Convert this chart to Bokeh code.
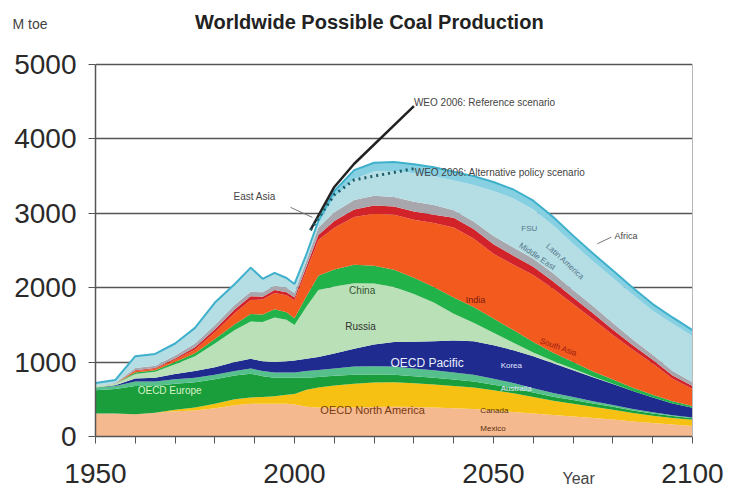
from bokeh.plotting import figure
from bokeh.models import ColumnDataSource, Range1d, FixedTicker, LinearAxis
from bokeh.transform import stack
from bokeh.core.properties import value
from bokeh.embed import file_html
from bokeh.resources import INLINE

years = [1950, 1955, 1960, 1965, 1970, 1975, 1980, 1985, 1989, 1992, 1995, 1998, 2000, 2003, 2006, 2010,
         2015, 2020, 2025, 2030, 2035, 2040, 2045, 2050, 2055, 2060, 2065, 2070, 2075, 2080, 2085, 2090, 2095, 2100]

oecd_north_america = [310, 310, 300, 320, 340, 350, 380, 420, 440, 440, 440, 440, 430, 400, 390, 385,
                      390, 395, 400, 395, 390, 380, 370, 350, 330, 310, 290, 270, 250, 230, 200, 180, 160, 140]
latin_america = [0, 0, 0, 0, 20, 40, 60, 80, 85, 90, 100, 120, 140, 230, 270, 300,
                 320, 330, 330, 320, 310, 300, 290, 270, 250, 220, 190, 170, 150, 130, 115, 100, 90, 85]
oecd_europe = [310, 330, 380, 360, 350, 340, 330, 320, 320, 280, 250, 230, 220, 160, 140, 130,
               120, 110, 100, 95, 90, 85, 80, 75, 70, 60, 55, 50, 45, 40, 35, 30, 25, 20]
eastern_europe = [40, 40, 60, 60, 60, 60, 60, 60, 70, 70, 70, 70, 70, 90, 95, 100,
                  110, 110, 110, 105, 100, 95, 90, 80, 70, 60, 50, 40, 30, 25, 20, 15, 10, 10]
oecd_pacific = [0, 10, 40, 50, 70, 90, 100, 120, 130, 130, 140, 150, 160, 165, 175, 200,
                240, 290, 330, 360, 390, 430, 450, 450, 440, 430, 400, 360, 320, 280, 240, 200, 160, 130]
russia = [20, 20, 60, 80, 130, 200, 320, 430, 500, 530, 600, 560, 480, 700, 900, 900,
          880, 820, 740, 640, 520, 360, 250, 170, 100, 50, 30, 20, 10, 5, 0, 0, 0, 0]
china = [0, 0, 20, 20, 30, 40, 60, 80, 100, 100, 110, 100, 90, 140, 190, 230,
         250, 240, 230, 220, 210, 220, 210, 190, 170, 140, 110, 90, 70, 55, 45, 35, 30, 25]
india = [0, 0, 20, 20, 30, 50, 90, 150, 190, 200, 220, 230, 240, 350, 480, 560,
         640, 700, 740, 780, 860, 940, 920, 870, 880, 900, 860, 780, 700, 600, 510, 420, 300, 230]
south_asia = [0, 0, 10, 10, 20, 30, 40, 50, 50, 40, 40, 40, 40, 50, 70, 90,
              100, 110, 110, 110, 110, 130, 130, 130, 120, 110, 100, 90, 80, 70, 60, 50, 45, 40]
middle_east = [0, 10, 30, 30, 40, 50, 60, 60, 60, 60, 60, 60, 60, 80, 100, 120,
               130, 130, 130, 130, 130, 100, 100, 110, 110, 110, 110, 100, 100, 90, 80, 70, 60, 50]
east_asia = [40, 40, 160, 160, 160, 210, 300, 280, 325, 180, 170, 130, 120, 85, 50, 200,
             280, 330, 350, 385, 390, 400, 490, 605, 660, 660, 640, 620, 600, 605, 600, 590, 635, 620]
africa = [0, 0, 0, 0, 0, 0, 0, 0, 0, 0, 0, 0, 0, 0, 40, 85,
          120, 115, 120, 120, 120, 120, 120, 120, 120, 120, 115, 110, 105, 100, 95, 90, 85, 80]

weo_ref_years = [2004, 2010, 2015, 2030]
weo_ref = [2773, 3354, 3666, 4441]
weo_alt_years = [2004, 2010, 2015, 2030]
weo_alt = [2773, 3250, 3450, 3600]

y_ticks = [0, 1000, 2000, 3000, 4000, 5000]
x_ticks = list(range(1950, 2101, 10))
x_tick_labels = {1950: "1950", 2000: "2000", 2050: "2050", 2100: "2100"}

cols = ["oecd_north_america", "latin_america", "oecd_europe", "eastern_europe", "oecd_pacific", "russia",
        "china", "india", "south_asia", "middle_east", "east_asia", "africa"]
colors = ["#f4b98f", "#f6c112", "#1a9e3c", "#56c08c", "#1f2b8e", "#b9e0b6",
          "#22b24a", "#f25a1e", "#d2232a", "#a9a7ae", "#b4dde4", "#86d0e2"]

data = dict(year=years, oecd_north_america=oecd_north_america, latin_america=latin_america,
            oecd_europe=oecd_europe, eastern_europe=eastern_europe, oecd_pacific=oecd_pacific,
            russia=russia, china=china, india=india, south_asia=south_asia, middle_east=middle_east,
            east_asia=east_asia, africa=africa)
source = ColumnDataSource(data)

FONT = "Liberation Sans"

# The frame reaches up to the title line; the value axis itself stops at 5000.
p = figure(width=731, height=491, output_backend="svg", toolbar_location=None,
           x_range=Range1d(1950, 2100), y_range=Range1d(0, 5726),
           min_border_left=95, min_border_right=39, min_border_top=10, min_border_bottom=55)
p.background_fill_color = "white"
p.border_fill_color = "white"
p.outline_line_color = None

p.varea_stack(stackers=cols, x="year", color=colors, source=source)
p.line(x="year", y=stack(*cols), source=source, line_color="#3fb0cc", line_width=2)

p.line(weo_ref_years, weo_ref, line_color="#222222", line_width=2.5)
p.line(weo_alt_years, weo_alt, line_color="#1c5a66", line_width=3, line_dash="2 4")

# axes
main_x = p.xaxis[0]
main_y = p.yaxis[0]
main_y.ticker = FixedTicker(ticks=y_ticks)
main_y.bounds = (0, 5000)
main_x.ticker = FixedTicker(ticks=x_ticks)
main_x.major_label_overrides = {t: x_tick_labels.get(t, "") for t in x_ticks}
for ax in (main_x, main_y):
    ax.major_label_text_font = FONT
    ax.major_label_text_font_size = "28px"
    ax.major_label_text_color = "#2a2a2a"
    ax.axis_line_color = "#555555"
    ax.axis_line_width = 1.5
    ax.major_tick_line_color = "#555555"
    ax.minor_tick_line_color = None
    ax.major_tick_in = 0
    ax.major_tick_out = 7
main_y.major_label_standoff = 12
main_x.major_label_standoff = 20

p.xgrid.grid_line_color = None
p.ygrid.ticker = FixedTicker(ticks=y_ticks)
p.ygrid.grid_line_color = "#555555"
p.ygrid.grid_line_width = 1.3

# right border of the plot area
border_axis = LinearAxis(ticker=FixedTicker(ticks=[]), bounds=(0, 5000), axis_line_color="#b8b8b8",
                         axis_line_width=1, major_tick_line_color=None, minor_tick_line_color=None)
p.add_layout(border_axis, "right")

# unit caption "M toe" above the value axis
unit_value = 5540
unit_axis = LinearAxis(ticker=FixedTicker(ticks=[unit_value]), major_label_overrides={unit_value: "M toe"},
                       major_label_text_font=FONT, major_label_text_font_size="14px",
                       major_label_text_color="#444444", major_label_standoff=-36,
                       axis_line_color=None, major_tick_line_color=None, minor_tick_line_color=None,
                       major_tick_out=0, major_tick_in=0)
p.add_layout(unit_axis, "left")

# "Year" caption on the time axis line
year_value = 2071.4
year_axis = LinearAxis(ticker=FixedTicker(ticks=[year_value]), major_label_overrides={year_value: "Year"},
                       major_label_text_font=FONT, major_label_text_font_size="16px",
                       major_label_text_color="#444444", major_label_standoff=-16,
                       axis_line_color=None, major_tick_line_color=None, minor_tick_line_color=None,
                       major_tick_out=0, major_tick_in=0)
p.add_layout(year_axis, "below")

# annotations
def note(x, y, t, size="10px", color="#333333", align="left", angle=0.0, style="normal"):
    p.text(x=[x], y=[y], text=[t], text_font=value(FONT), text_font_size=size, text_color=color,
           text_align=align, text_baseline="middle", angle=angle, text_font_style=style)

note(2018.8, 5565, "Worldwide Possible Coal Production", "20px", "#222222", "center", style="bold")
note(2030.0, 4490, "WEO 2006: Reference scenario", "10px", "#444444")
note(2030.2, 3550, "WEO 2006: Alternative policy scenario", "10px", "#444444")
note(1984.7, 3230, "East Asia", "10px", "#444444")
p.segment(x0=[1999.0], y0=[3080], x1=[2004.5], y1=[2945], line_color="#777777", line_width=1)
note(2080.4, 2700, "Africa", "9px", "#444444")
p.segment(x0=[2076.1], y0=[2590], x1=[2079.6], y1=[2680], line_color="#777777", line_width=1)
note(2017.0, 1962, "China", "10px", "#335533", "center")
note(2016.6, 1480, "Russia", "10px", "#333333", "center")
note(2024.1, 985, "OECD Pacific", "12px", "#e8ecff")
note(2051.8, 950, "Korea", "8px", "#e0e4ff")
note(2051.8, 650, "Australia", "8px", "#e0e4ff")
note(1960.6, 620, "OECD Europe", "10px", "#d8f2c8")
note(2006.5, 350, "OECD North America", "11px", "#7a3a10")
note(2046.7, 350, "Canada", "8px", "#5a3010")
note(2046.7, 110, "Mexico", "8px", "#5a3010")
note(2043.0, 1830, "India", "9px", "#7a1a10")
note(2061.8, 1290, "South Asia", "8px", "#9a1a10", "left", -0.35)
note(2057.0, 2790, "FSU", "8px", "#557788")
note(2068.0, 2350, "Latin America", "8px", "#557788", "center", -0.75)
note(2061.0, 2420, "Middle East", "8px", "#557788", "center", -0.6)

open("out.html", "w").write(file_html(p, INLINE))
